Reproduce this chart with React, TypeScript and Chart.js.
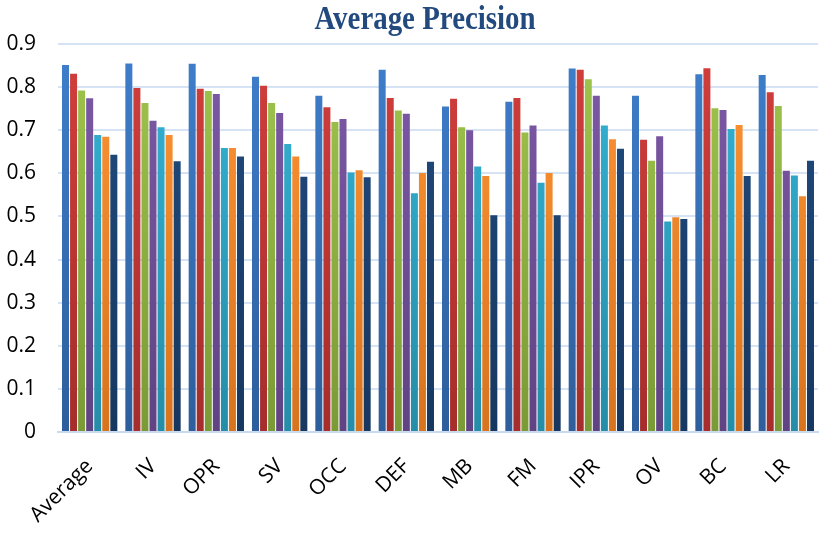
import { useEffect, useRef } from 'react';
import { Chart, registerables } from 'chart.js';

Chart.register(...registerables);

const categories = ['Average', 'IV', 'OPR', 'SV', 'OCC', 'DEF', 'MB', 'FM', 'IPR', 'OV', 'BC', 'LR'];
const series1 = [0.851, 0.855, 0.854, 0.824, 0.780, 0.840, 0.755, 0.766, 0.843, 0.780, 0.830, 0.828];
const series2 = [0.831, 0.798, 0.796, 0.803, 0.753, 0.775, 0.773, 0.775, 0.840, 0.678, 0.844, 0.788];
const series3 = [0.792, 0.763, 0.791, 0.763, 0.719, 0.746, 0.707, 0.695, 0.818, 0.629, 0.751, 0.756];
const series4 = [0.774, 0.722, 0.784, 0.740, 0.726, 0.738, 0.700, 0.711, 0.780, 0.686, 0.747, 0.606];
const series5 = [0.689, 0.707, 0.659, 0.668, 0.602, 0.554, 0.616, 0.578, 0.711, 0.488, 0.703, 0.595];
const series6 = [0.685, 0.689, 0.659, 0.639, 0.607, 0.601, 0.594, 0.601, 0.679, 0.498, 0.712, 0.547];
const series7 = [0.643, 0.628, 0.639, 0.592, 0.591, 0.627, 0.503, 0.503, 0.657, 0.494, 0.594, 0.629];

const chartTitle = 'Average Precision';

const seriesList = [series1, series2, series3, series4, series5, series6, series7];
const topColors = ['#3F7FCC', '#D23F3C', '#A0C64D', '#7E5AA8', '#36B4D6', '#FF9535', '#214C80'];
const bottomColors = ['#2E5E9C', '#A52D2B', '#7A9A36', '#5F4383', '#258DA8', '#D8731E', '#17375F'];

const titlePlugin = {
  id: 'scaledTitle',
  afterDraw(chart: any) {
    const ctx = chart.ctx;
    ctx.save();
    ctx.translate(425, 29);
    ctx.scale(0.85, 1);
    ctx.font = 'bold 34px "Liberation Serif"';
    ctx.fillStyle = '#234A7E';
    ctx.textAlign = 'center';
    ctx.textBaseline = 'alphabetic';
    ctx.fillText(chartTitle, 0, 0);
    ctx.restore();
  },
};

export default function App() {
  const ref = useRef<HTMLCanvasElement | null>(null);

  useEffect(() => {
    if (!ref.current) return;
    const datasets = seriesList.map((data, i) => ({
      label: `S${i + 1}`,
      data,
      backgroundColor: (ctx: any) => {
        const chart = ctx.chart;
        const area = chart.chartArea;
        if (!area) return topColors[i];
        const g = chart.ctx.createLinearGradient(0, area.top, 0, area.bottom);
        g.addColorStop(0, topColors[i]);
        g.addColorStop(1, bottomColors[i]);
        return g;
      },
      borderWidth: 0,
      categoryPercentage: 0.89,
      barPercentage: 0.87,
    }));

    const chart = new Chart(ref.current, {
      type: 'bar',
      data: { labels: categories, datasets },
      plugins: [titlePlugin],
      options: {
        responsive: false,
        animation: false,
        layout: { padding: { left: 0, right: 12, top: 44, bottom: 0 } },
        plugins: {
          legend: { display: false },
          tooltip: { enabled: false },
          title: { display: false },
        },
        scales: {
          x: {
            grid: { display: false, drawTicks: false },
            border: { display: true, color: '#C9DAEF', width: 2 },
            ticks: {
              color: '#000',
              font: { family: 'Open Sans', size: 21 },
              minRotation: 45,
              maxRotation: 45,
              padding: 22,
            },
            afterFit: (scale: any) => {
              scale.height = 108;
            },
          },
          y: {
            min: 0,
            max: 0.9,
            grid: { color: '#D6E3F4', lineWidth: 2, drawTicks: false },
            border: { display: false },
            ticks: {
              stepSize: 0.1,
              color: '#000',
              font: { family: 'Open Sans', size: 21 },
              padding: 22,
              callback: (v: any) => (Math.abs(Number(v)) < 1e-9 ? '0' : Number(v).toFixed(1)),
            },
            afterFit: (scale: any) => {
              scale.width = 58;
            },
          },
        },
      },
    });
    return () => chart.destroy();
  }, []);

  return (
    <div style={{ position: 'absolute', left: 0, top: 0, width: 830, height: 540, background: '#fff' }}>
      <canvas ref={ref} width={830} height={540} style={{ width: 830, height: 540 }} />
    </div>
  );
}
